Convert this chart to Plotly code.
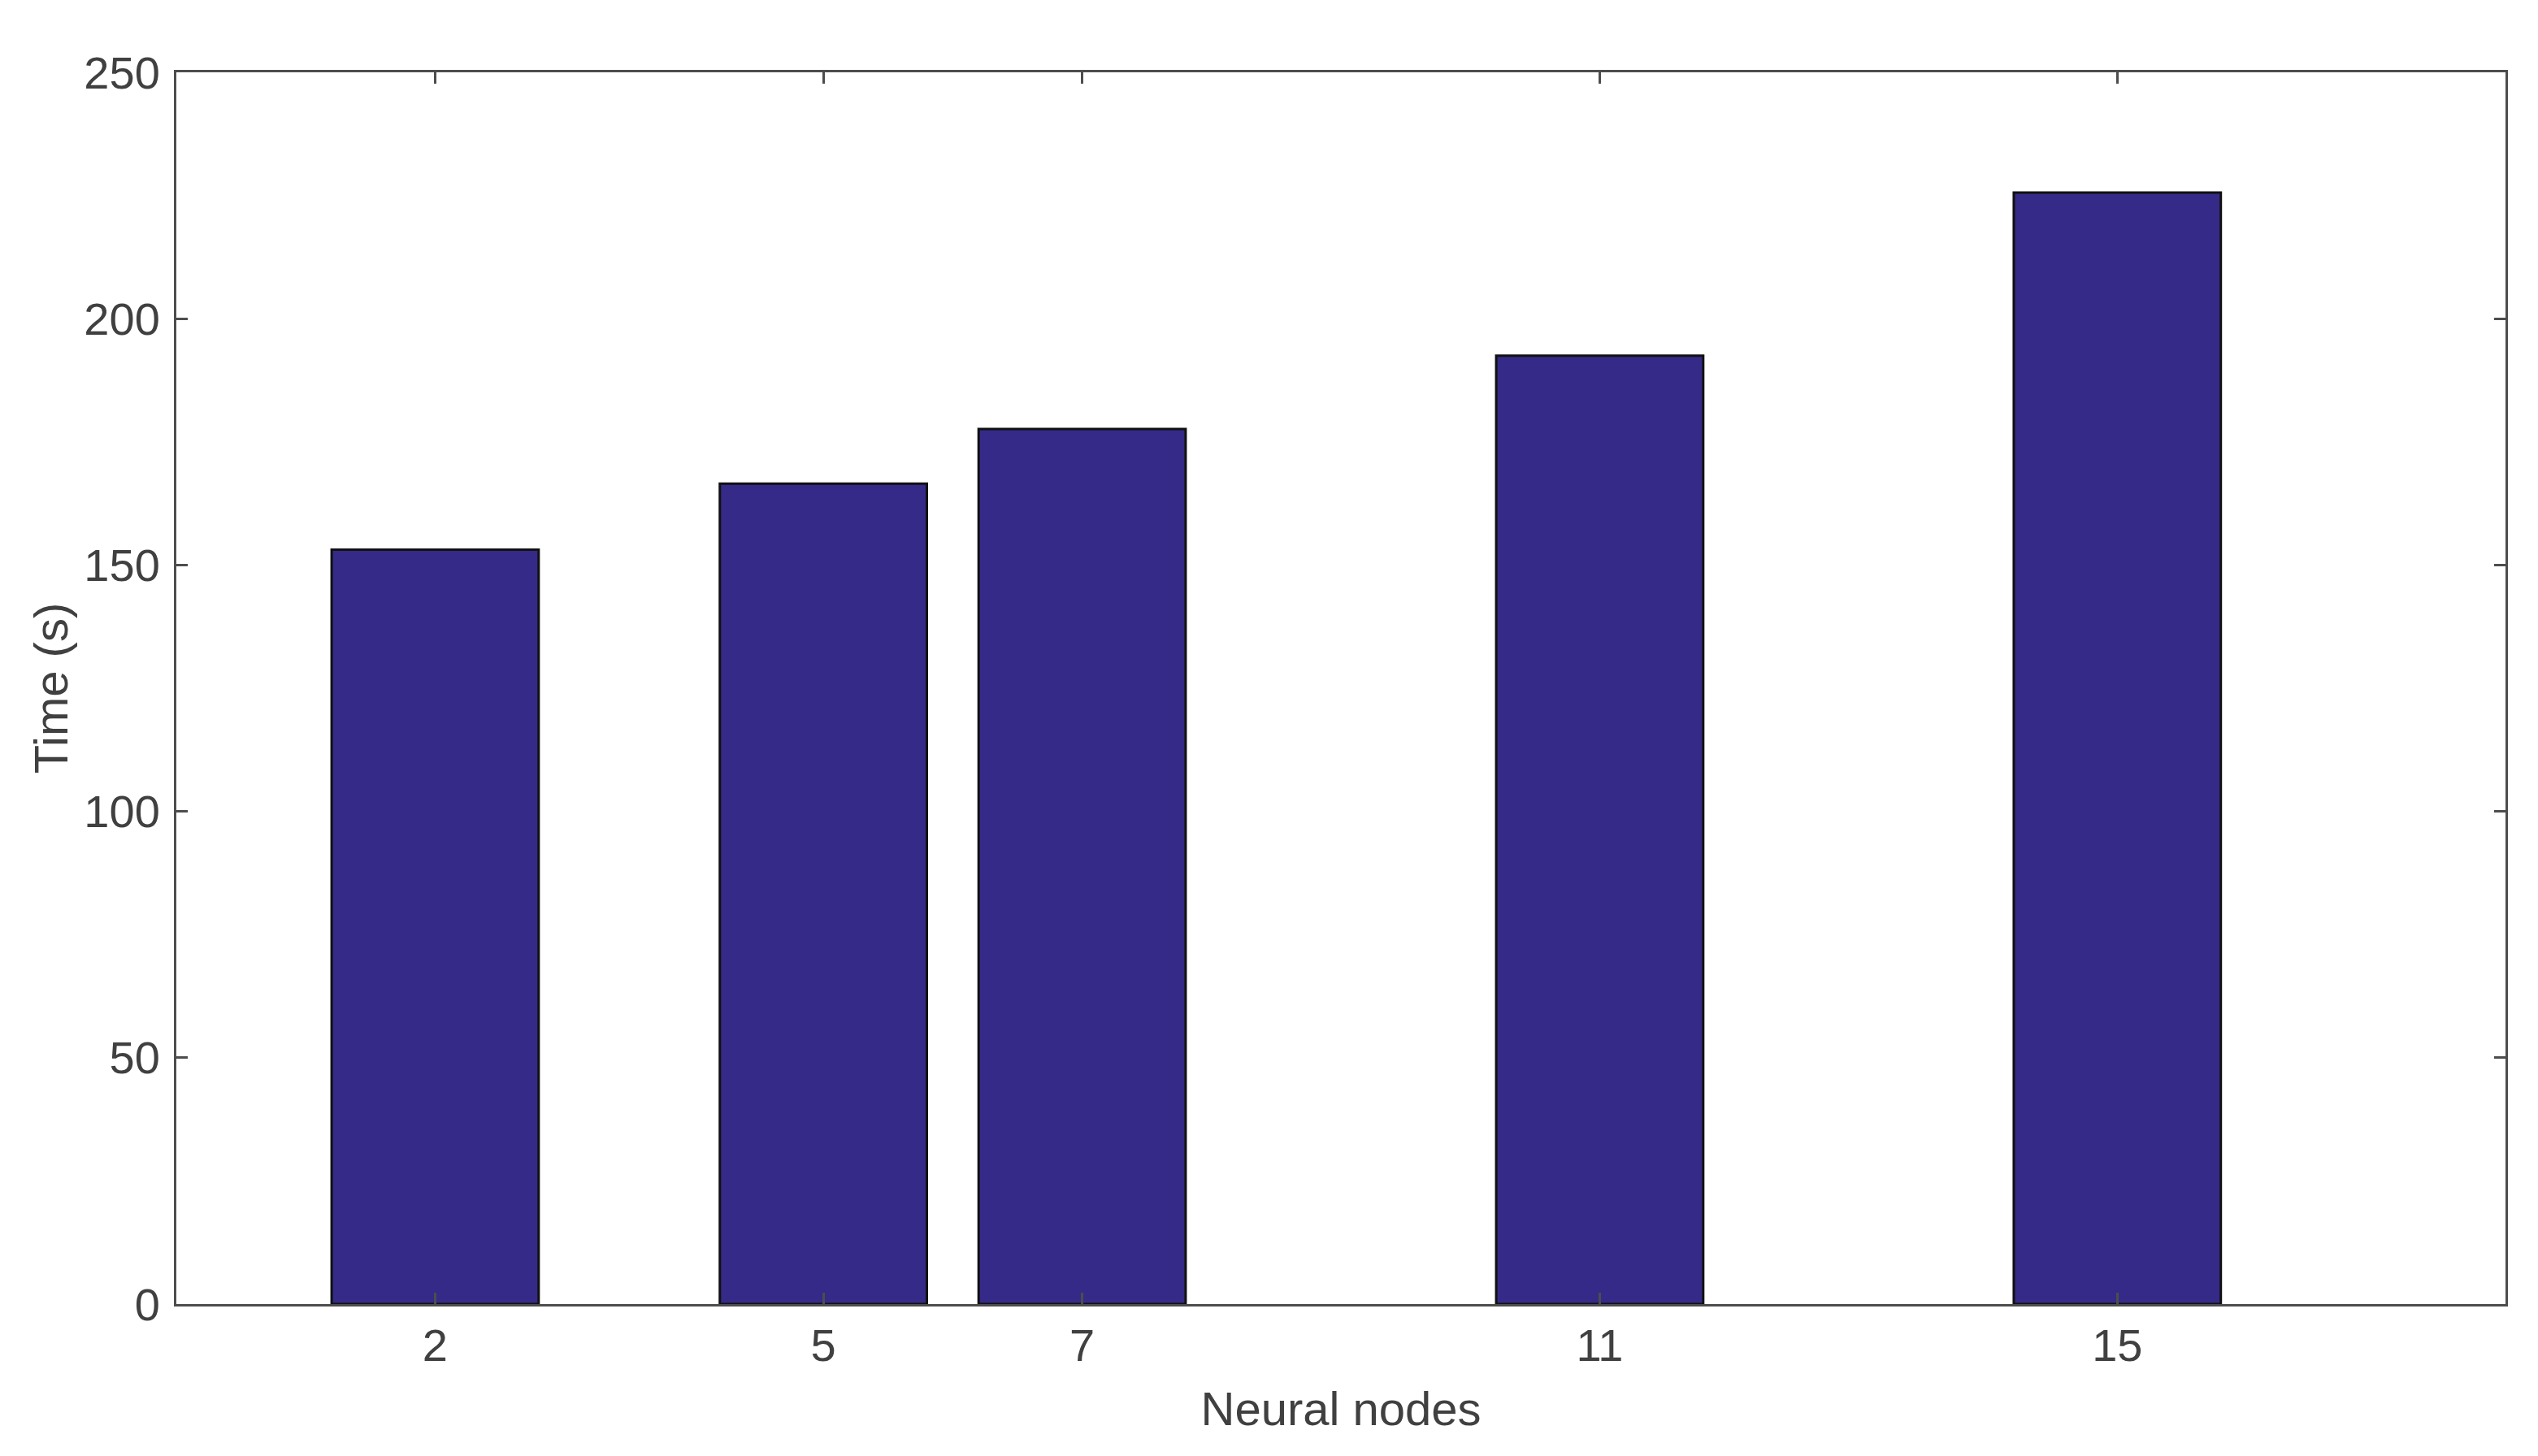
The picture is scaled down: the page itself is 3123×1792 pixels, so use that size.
import plotly.graph_objects as go

# data
nodes = [2, 5, 7, 11, 15]
times = [153.1, 166.5, 177.6, 192.5, 225.6]
y_ticks = [0, 50, 100, 150, 200, 250]

BAR_COLOR = '#352A87'
AXIS_COLOR = '#4d4d4d'
TEXT_COLOR = '#404040'
FONT = "'Liberation Sans', Arial, Helvetica, sans-serif"

fig = go.Figure(go.Bar(
    x=nodes,
    y=times,
    width=1.6,
    marker=dict(color=BAR_COLOR, line=dict(color='#111111', width=3)),
))

axis_common = dict(
    showline=True,
    linecolor=AXIS_COLOR,
    linewidth=3,
    mirror='ticks',
    ticks='inside',
    ticklen=14,
    tickwidth=3,
    tickcolor=AXIS_COLOR,
    showgrid=False,
    zeroline=False,
    automargin=False,
    tickfont=dict(size=56, color=TEXT_COLOR, family=FONT),
)

# page body adds ~8px offset, margins compensate for it
fig.update_layout(
    width=3123,
    height=1792,
    paper_bgcolor='white',
    plot_bgcolor='white',
    showlegend=False,
    font=dict(family=FONT, color=TEXT_COLOR, size=56),
    margin=dict(l=209, r=48, t=81, b=195),
    xaxis=dict(
        range=[0, 18],
        tickvals=nodes,
        ticktext=[str(n) for n in nodes],
        ticklabelstandoff=0,
        title=dict(text='Neural nodes', font=dict(size=58, family=FONT, color=TEXT_COLOR), standoff=28),
        **axis_common,
    ),
    yaxis=dict(
        range=[0, 250],
        tickvals=y_ticks,
        ticklabelstandoff=6,
        title=dict(text='Time (s)', font=dict(size=58, family=FONT, color=TEXT_COLOR), standoff=2),
        **axis_common,
    ),
)

fig.write_html("out.html")
